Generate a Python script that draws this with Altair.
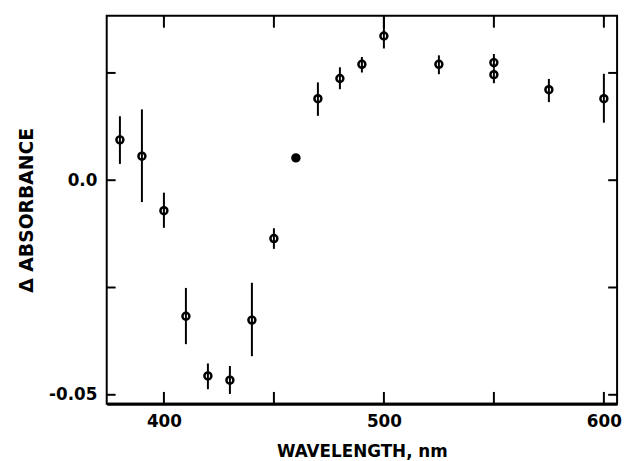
import altair as alt
import pandas as pd

wavelength = [380, 390, 400, 410, 420, 430, 440, 450, 460, 470, 480, 490, 500, 525, 550, 550, 575, 600]
absorb = [0.0094, 0.0056, -0.0071, -0.0317, -0.0456, -0.0466, -0.0326, -0.0136, 0.0052,
          0.0190, 0.0237, 0.0270, 0.0336, 0.0270, 0.0274, 0.0246, 0.0211, 0.0190]
err_hi = [0.0149, 0.0165, -0.0029, -0.0251, -0.0427, -0.0433, -0.0239, -0.0112, 0.0052,
          0.0228, 0.0263, 0.0287, 0.0383, 0.0291, 0.0294, 0.0260, 0.0236, 0.0248]
err_lo = [0.0038, -0.0051, -0.0111, -0.0382, -0.0487, -0.0498, -0.0410, -0.0160, 0.0052,
          0.0150, 0.0212, 0.0251, 0.0307, 0.0247, 0.0260, 0.0226, 0.0182, 0.0134]
filled = [False, False, False, False, False, False, False, False, True,
          False, False, False, False, False, False, False, False, False]

x_ticks = [400, 450, 500, 550, 600]
y_ticks = [-0.05, -0.025, 0.0, 0.025]

W, H = 517, 393
FONT = "DejaVu Sans"

df = pd.DataFrame({"wl": wavelength, "a": absorb, "hi": err_hi, "lo": err_lo, "filled": filled})
dfx = pd.DataFrame({"t": x_ticks})
dfy = pd.DataFrame({"t": y_ticks})

xs = alt.Scale(domain=[374, 606], nice=False, zero=False)
ys = alt.Scale(domain=[-0.0521, 0.0383], nice=False, zero=False)

x_axis = alt.Axis(values=[400, 500, 600], ticks=False, tickSize=0, grid=False,
                  labelFontSize=17, labelFontWeight="bold", labelFont=FONT, labelColor="black",
                  labelPadding=10, domain=True, domainColor="black", domainWidth=3,
                  title="WAVELENGTH, nm", titleFontSize=17, titleFont=FONT, titleFontWeight="bold",
                  titleColor="black", titlePadding=14)
y_axis = alt.Axis(values=[-0.05, 0.0], ticks=False, tickSize=0, grid=False,
                  labelExpr="datum.value == 0 ? '0.0' : '-0.05'",
                  labelFontSize=17, labelFontWeight="bold", labelFont=FONT, labelColor="black",
                  labelPadding=10, domain=False,
                  title="Δ ABSORBANCE", titleFontSize=19, titleFont=FONT, titleFontWeight="bold",
                  titleColor="black", titlePadding=12)

bars = alt.Chart(df).mark_rule(color="black", strokeWidth=2).encode(
    x=alt.X("wl:Q", scale=xs, axis=x_axis),
    y=alt.Y("lo:Q", scale=ys, axis=y_axis),
    y2="hi:Q",
)

pts = alt.Chart(df).mark_point(shape="circle", size=50, strokeWidth=2.5, opacity=1).encode(
    x=alt.X("wl:Q", scale=xs),
    y=alt.Y("a:Q", scale=ys),
    stroke=alt.value("black"),
    fill=alt.condition("datum.filled", alt.value("black"), alt.value("transparent")),
)

bt = alt.Chart(dfx).mark_rule(color="black", strokeWidth=2).encode(
    x=alt.X("t:Q", scale=xs), y=alt.value(H), y2=alt.value(H - 12))
tt = alt.Chart(dfx).mark_rule(color="black", strokeWidth=2).encode(
    x=alt.X("t:Q", scale=xs), y=alt.value(0), y2=alt.value(12))
lt = alt.Chart(dfy).mark_rule(color="black", strokeWidth=2).encode(
    y=alt.Y("t:Q", scale=ys), x=alt.value(0), x2=alt.value(9))
rt = alt.Chart(dfy).mark_rule(color="black", strokeWidth=2).encode(
    y=alt.Y("t:Q", scale=ys), x=alt.value(W), x2=alt.value(W - 9))

chart = alt.layer(bt, tt, lt, rt, bars, pts).properties(
    width=W, height=H,
    autosize="none",
    padding={"left": 100, "top": 5, "right": 6, "bottom": 55},
    background="white",
).configure_view(stroke="black", strokeWidth=2)

chart.save("out.html", embed_options={"renderer": "svg", "actions": False})
